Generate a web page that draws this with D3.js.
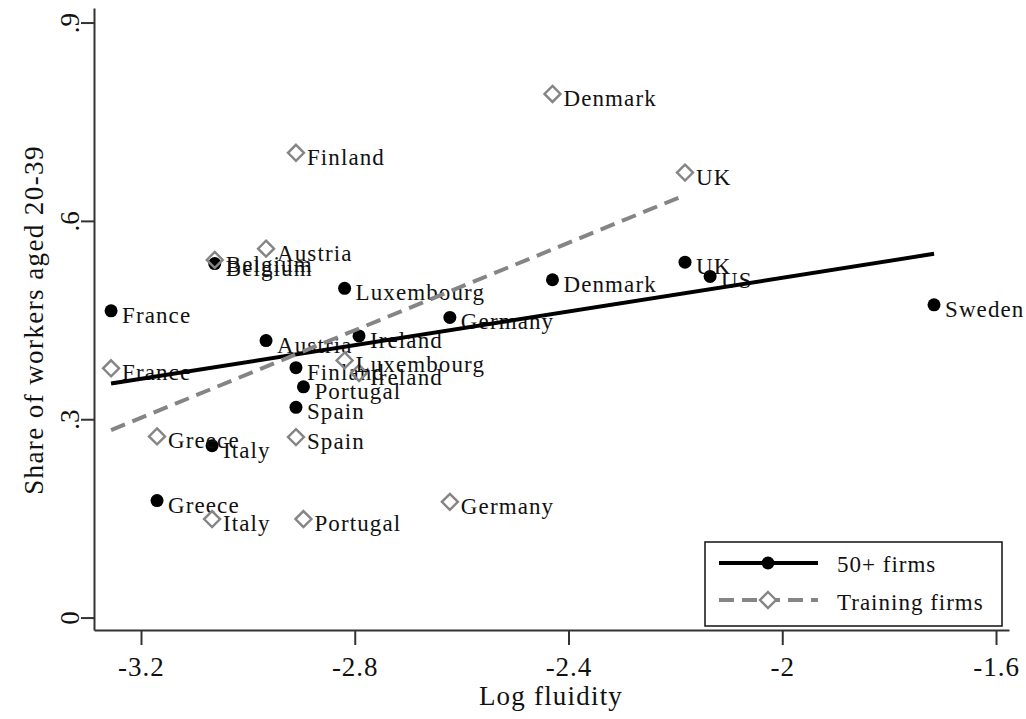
<!DOCTYPE html>
<html>
<head>
<meta charset="utf-8">
<script src="https://cdn.jsdelivr.net/npm/d3@7"></script>
<style>
  html, body { margin: 0; padding: 0; background: #fff; }
</style>
</head>
<body>
<svg id="chart" width="1026" height="719"></svg>
<script>
// countries and their log fluidity (shared by both series)
const countries = ['France', 'Belgium', 'Austria', 'Luxembourg', 'Ireland', 'Germany', 'Finland',
  'Portugal', 'Spain', 'Italy', 'Greece', 'Denmark', 'UK', 'US', 'Sweden'];
const fluidity = [-3.256, -3.062, -2.966, -2.819, -2.792, -2.622, -2.910,
  -2.896, -2.910, -3.067, -3.170, -2.430, -2.182, -2.135, -1.716];
// share of workers aged 20-39, null where the country has no value
const share50 = [0.464, 0.5355, 0.419, 0.498, 0.426, 0.454, 0.378,
  0.349, 0.318, 0.260, 0.177, 0.511, 0.5375, 0.516, 0.473];
const shareTraining = [0.377, 0.541, 0.558, 0.389, 0.370, 0.175, 0.703,
  0.149, 0.273, 0.149, 0.274, 0.792, 0.673, null, null];

const seriesNames = ['50+ firms', 'Training firms'];
const xTicks = [-3.2, -2.8, -2.4, -2, -1.6];
const xTickLabels = ['-3.2', '-2.8', '-2.4', '-2', '-1.6'];
const yTicks = [0, 0.3, 0.6, 0.9];
const yTickLabels = ['0', '.3', '.6', '.9'];

const FONT = '"Liberation Serif", "Times New Roman", Times, "DejaVu Serif", serif';
const svg = d3.select('#chart');

const x = d3.scaleLinear().domain([-3.28795, -1.5757]).range([94, 1009]);
const y = d3.scaleLinear().domain([-0.0188, 0.922]).range([630, 8]);

const grey = '#858585';

function points(values) {
  return countries
    .map((c, i) => ({ name: c, x: fluidity[i], y: values[i] }))
    .filter(d => d.y != null);
}

function olsLine(pts) {
  const mx = d3.mean(pts, d => d.x);
  const my = d3.mean(pts, d => d.y);
  const b = d3.sum(pts, d => (d.x - mx) * (d.y - my)) / d3.sum(pts, d => (d.x - mx) ** 2);
  const a = my - b * mx;
  const ext = d3.extent(pts, d => d.x);
  return ext.map(v => ({ x: v, y: a + b * v }));
}

const pts50 = points(share50);
const ptsTr = points(shareTraining);

// axes
const xAxis = svg.append('g')
  .attr('transform', 'translate(0,630)')
  .call(d3.axisBottom(x).tickValues(xTicks).tickSize(15).tickSizeOuter(0)
    .tickFormat((d, i) => xTickLabels[i]));
xAxis.select('.domain').attr('stroke', '#333').attr('stroke-width', 2);
xAxis.selectAll('.tick line').attr('stroke', '#333').attr('stroke-width', 2);
xAxis.selectAll('.tick text')
  .attr('y', 27).attr('dy', '0.71em')
  .style('font-size', '27px').style('letter-spacing', '1px');

const yAxis = svg.append('g')
  .attr('transform', 'translate(94,0)')
  .call(d3.axisLeft(y).tickValues(yTicks).tickSize(13).tickSizeOuter(0)
    .tickFormat((d, i) => yTickLabels[i]));
yAxis.select('.domain').attr('stroke', '#333').attr('stroke-width', 2);
yAxis.selectAll('.tick line').attr('stroke', '#333').attr('stroke-width', 2);
yAxis.selectAll('.tick text')
  .attr('x', 0).attr('dy', 0)
  .attr('transform', 'translate(-15,0) rotate(-90)')
  .attr('text-anchor', 'middle')
  .style('font-size', '27px');

svg.append('text')
  .attr('x', 551).attr('y', 705)
  .attr('text-anchor', 'middle')
  .style('font-size', '27px').style('letter-spacing', '1.2px')
  .text('Log fluidity');

svg.append('text')
  .attr('transform', 'translate(43,320) rotate(-90)')
  .attr('text-anchor', 'middle')
  .style('font-size', '27px').style('letter-spacing', '1.4px')
  .text('Share of workers aged 20-39');

// scatter: 50+ firms
const g50 = svg.append('g');
g50.selectAll('circle').data(pts50).enter().append('circle')
  .attr('cx', d => x(d.x)).attr('cy', d => y(d.y)).attr('r', 6.5)
  .attr('fill', '#000');
g50.selectAll('text').data(pts50).enter().append('text')
  .attr('x', d => x(d.x) + 11).attr('y', d => y(d.y) + 12)
  .style('font-size', '23px').style('letter-spacing', '1.1px')
  .text(d => d.name);

// scatter: training firms
const diamond = 'M0,-8L8,0L0,8L-8,0Z';
const gTr = svg.append('g');
gTr.selectAll('path').data(ptsTr).enter().append('path')
  .attr('d', diamond)
  .attr('transform', d => 'translate(' + x(d.x) + ',' + y(d.y) + ')')
  .attr('fill', 'none').attr('stroke', grey).attr('stroke-width', 2.4);
gTr.selectAll('text').data(ptsTr).enter().append('text')
  .attr('x', d => x(d.x) + 11).attr('y', d => y(d.y) + 12)
  .style('font-size', '23px').style('letter-spacing', '1.1px')
  .text(d => d.name);

// fitted lines
const line = d3.line().x(d => x(d.x)).y(d => y(d.y));
svg.append('path').datum(olsLine(pts50))
  .attr('d', line).attr('fill', 'none')
  .attr('stroke', '#000').attr('stroke-width', 4);
svg.append('path').datum(olsLine(ptsTr))
  .attr('d', line).attr('fill', 'none')
  .attr('stroke', grey).attr('stroke-width', 4)
  .attr('stroke-dasharray', '15,8');

// legend
const lg = svg.append('g');
lg.append('rect')
  .attr('x', 705).attr('y', 542).attr('width', 297).attr('height', 84)
  .attr('fill', '#fff').attr('stroke', '#111').attr('stroke-width', 1.5);
lg.append('line').attr('x1', 719).attr('x2', 818).attr('y1', 563).attr('y2', 563)
  .attr('stroke', '#000').attr('stroke-width', 4);
lg.append('circle').attr('cx', 768).attr('cy', 563).attr('r', 6.5).attr('fill', '#000');
lg.append('line').attr('x1', 719).attr('x2', 818).attr('y1', 600).attr('y2', 600)
  .attr('stroke', grey).attr('stroke-width', 4).attr('stroke-dasharray', '15,8');
lg.append('path').attr('d', diamond)
  .attr('transform', 'translate(768,600)')
  .attr('fill', '#fff').attr('stroke', grey).attr('stroke-width', 2.4);
lg.selectAll('text.lab').data(seriesNames).enter().append('text')
  .attr('class', 'lab')
  .attr('x', 837).attr('y', (d, i) => 572 + i * 38)
  .style('font-size', '23px').style('letter-spacing', '1px')
  .text(d => d);

// one serif face for every text, axis texts included
svg.selectAll('text').style('font-family', FONT).style('fill', '#111');
</script>
</body>
</html>
